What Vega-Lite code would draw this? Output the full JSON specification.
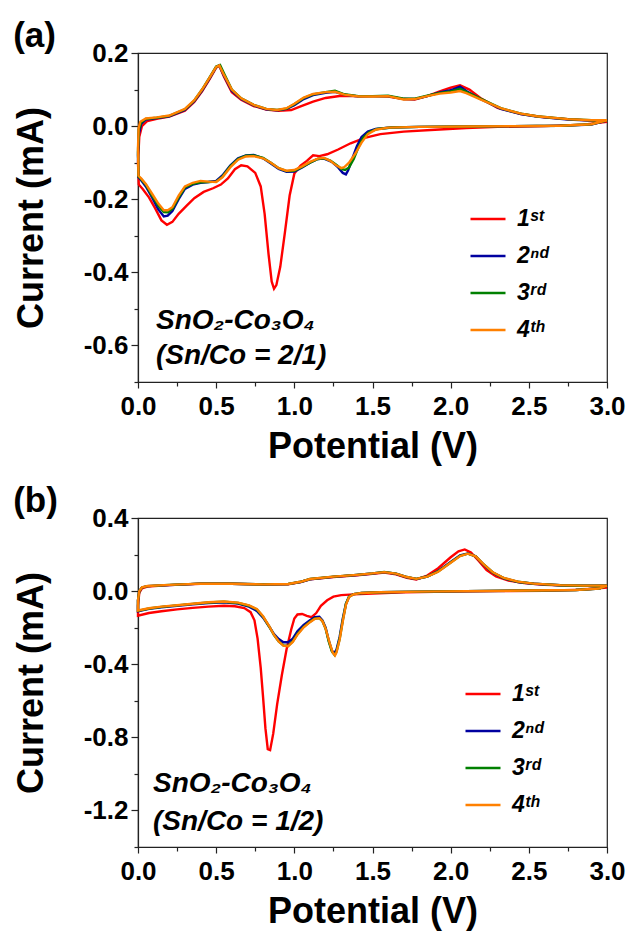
{
"$schema": "https://vega.github.io/schema/vega-lite/v6.json",
"background": "white",
"padding": {"left": 12, "top": 18, "right": 5, "bottom": 2},
"config": {
  "font": "Liberation Sans",
  "view": {"stroke": "#222", "strokeWidth": 1.2},
  "axis": {"grid": false, "domainColor": "#222", "domainWidth": 1.2, "tickColor": "#222", "tickWidth": 1.2,
    "labelFont": "Liberation Sans", "labelFontSize": 26, "labelFontWeight": "bold", "labelColor": "#000",
    "titleFont": "Liberation Sans", "titleFontSize": 36, "titleFontWeight": "bold", "titleColor": "#000",
    "labelOverlap": false, "labelFlush": false},
  "axisX": {"labelPadding": 5, "titlePadding": 10, "tickSize": 6},
  "axisY": {"labelPadding": 3, "titlePadding": 33, "tickSize": 7},
  "legend": {"labelFont": "Liberation Sans"},
  "title": {"font": "Liberation Sans", "fontSize": 35, "fontWeight": "bold", "color": "#000", "anchor": "start", "frame": "bounds", "offset": -14}
},
"datasets": {
"cvA": [
{"cycle":"1st","n":1,"V":3.0,"I":0.012},{"cycle":"1st","n":2,"V":2.85,"I":0.004},{"cycle":"1st","n":3,"V":2.6,"I":0.0},{"cycle":"1st","n":4,"V":2.3,"I":-0.002},{"cycle":"1st","n":5,"V":2.1,"I":-0.005},{"cycle":"1st","n":6,"V":1.9,"I":-0.01},{"cycle":"1st","n":7,"V":1.7,"I":-0.015},{"cycle":"1st","n":8,"V":1.55,"I":-0.022},{"cycle":"1st","n":9,"V":1.45,"I":-0.032},{"cycle":"1st","n":10,"V":1.36,"I":-0.047},{"cycle":"1st","n":11,"V":1.28,"I":-0.064},{"cycle":"1st","n":12,"V":1.21,"I":-0.077},{"cycle":"1st","n":13,"V":1.16,"I":-0.082},{"cycle":"1st","n":14,"V":1.12,"I":-0.08},{"cycle":"1st","n":15,"V":1.08,"I":-0.095},{"cycle":"1st","n":16,"V":1.04,"I":-0.108},{"cycle":"1st","n":17,"V":1.0,"I":-0.13},{"cycle":"1st","n":18,"V":0.97,"I":-0.19},{"cycle":"1st","n":19,"V":0.94,"I":-0.29},{"cycle":"1st","n":20,"V":0.91,"I":-0.385},{"cycle":"1st","n":21,"V":0.885,"I":-0.435},{"cycle":"1st","n":22,"V":0.87,"I":-0.445},{"cycle":"1st","n":23,"V":0.855,"I":-0.425},{"cycle":"1st","n":24,"V":0.835,"I":-0.35},{"cycle":"1st","n":25,"V":0.81,"I":-0.24},{"cycle":"1st","n":26,"V":0.785,"I":-0.165},{"cycle":"1st","n":27,"V":0.75,"I":-0.128},{"cycle":"1st","n":28,"V":0.7,"I":-0.11},{"cycle":"1st","n":29,"V":0.66,"I":-0.107},{"cycle":"1st","n":30,"V":0.62,"I":-0.118},{"cycle":"1st","n":31,"V":0.575,"I":-0.143},{"cycle":"1st","n":32,"V":0.53,"I":-0.16},{"cycle":"1st","n":33,"V":0.48,"I":-0.17},{"cycle":"1st","n":34,"V":0.42,"I":-0.18},{"cycle":"1st","n":35,"V":0.36,"I":-0.197},{"cycle":"1st","n":36,"V":0.31,"I":-0.218},{"cycle":"1st","n":37,"V":0.26,"I":-0.24},{"cycle":"1st","n":38,"V":0.22,"I":-0.262},{"cycle":"1st","n":39,"V":0.185,"I":-0.27},{"cycle":"1st","n":40,"V":0.15,"I":-0.258},{"cycle":"1st","n":41,"V":0.11,"I":-0.225},{"cycle":"1st","n":42,"V":0.07,"I":-0.195},{"cycle":"1st","n":43,"V":0.03,"I":-0.172},{"cycle":"1st","n":44,"V":0.005,"I":-0.16},{"cycle":"1st","n":45,"V":0.0,"I":-0.1},{"cycle":"1st","n":46,"V":0.008,"I":-0.03},{"cycle":"1st","n":47,"V":0.025,"I":0.0},{"cycle":"1st","n":48,"V":0.06,"I":0.014},{"cycle":"1st","n":49,"V":0.12,"I":0.02},{"cycle":"1st","n":50,"V":0.2,"I":0.026},{"cycle":"1st","n":51,"V":0.3,"I":0.042},{"cycle":"1st","n":52,"V":0.36,"I":0.066},{"cycle":"1st","n":53,"V":0.41,"I":0.095},{"cycle":"1st","n":54,"V":0.46,"I":0.13},{"cycle":"1st","n":55,"V":0.5,"I":0.16},{"cycle":"1st","n":56,"V":0.52,"I":0.165},{"cycle":"1st","n":57,"V":0.55,"I":0.135},{"cycle":"1st","n":58,"V":0.6,"I":0.093},{"cycle":"1st","n":59,"V":0.66,"I":0.072},{"cycle":"1st","n":60,"V":0.74,"I":0.055},{"cycle":"1st","n":61,"V":0.82,"I":0.045},{"cycle":"1st","n":62,"V":0.9,"I":0.042},{"cycle":"1st","n":63,"V":0.98,"I":0.044},{"cycle":"1st","n":64,"V":1.04,"I":0.054},{"cycle":"1st","n":65,"V":1.12,"I":0.067},{"cycle":"1st","n":66,"V":1.2,"I":0.077},{"cycle":"1st","n":67,"V":1.3,"I":0.083},{"cycle":"1st","n":68,"V":1.4,"I":0.082},{"cycle":"1st","n":69,"V":1.5,"I":0.082},{"cycle":"1st","n":70,"V":1.6,"I":0.081},{"cycle":"1st","n":71,"V":1.7,"I":0.074},{"cycle":"1st","n":72,"V":1.77,"I":0.073},{"cycle":"1st","n":73,"V":1.85,"I":0.082},{"cycle":"1st","n":74,"V":1.93,"I":0.095},{"cycle":"1st","n":75,"V":2.0,"I":0.105},{"cycle":"1st","n":76,"V":2.06,"I":0.112},{"cycle":"1st","n":77,"V":2.12,"I":0.1},{"cycle":"1st","n":78,"V":2.19,"I":0.077},{"cycle":"1st","n":79,"V":2.3,"I":0.05},{"cycle":"1st","n":80,"V":2.45,"I":0.033},{"cycle":"1st","n":81,"V":2.6,"I":0.024},{"cycle":"1st","n":82,"V":2.75,"I":0.019},{"cycle":"1st","n":83,"V":2.9,"I":0.015},{"cycle":"1st","n":84,"V":3.0,"I":0.012},
{"cycle":"2nd","n":1,"V":3.0,"I":0.015},{"cycle":"2nd","n":2,"V":2.9,"I":0.004},{"cycle":"2nd","n":3,"V":2.7,"I":0.001},{"cycle":"2nd","n":4,"V":2.4,"I":0.0},{"cycle":"2nd","n":5,"V":2.1,"I":-0.001},{"cycle":"2nd","n":6,"V":1.8,"I":-0.002},{"cycle":"2nd","n":7,"V":1.62,"I":-0.004},{"cycle":"2nd","n":8,"V":1.52,"I":-0.008},{"cycle":"2nd","n":9,"V":1.47,"I":-0.015},{"cycle":"2nd","n":10,"V":1.43,"I":-0.03},{"cycle":"2nd","n":11,"V":1.4,"I":-0.055},{"cycle":"2nd","n":12,"V":1.37,"I":-0.09},{"cycle":"2nd","n":13,"V":1.345,"I":-0.12},{"cycle":"2nd","n":14,"V":1.33,"I":-0.132},{"cycle":"2nd","n":15,"V":1.31,"I":-0.128},{"cycle":"2nd","n":16,"V":1.28,"I":-0.113},{"cycle":"2nd","n":17,"V":1.24,"I":-0.098},{"cycle":"2nd","n":18,"V":1.19,"I":-0.089},{"cycle":"2nd","n":19,"V":1.15,"I":-0.09},{"cycle":"2nd","n":20,"V":1.1,"I":-0.1},{"cycle":"2nd","n":21,"V":1.05,"I":-0.113},{"cycle":"2nd","n":22,"V":1.0,"I":-0.124},{"cycle":"2nd","n":23,"V":0.95,"I":-0.125},{"cycle":"2nd","n":24,"V":0.9,"I":-0.117},{"cycle":"2nd","n":25,"V":0.85,"I":-0.102},{"cycle":"2nd","n":26,"V":0.8,"I":-0.088},{"cycle":"2nd","n":27,"V":0.74,"I":-0.079},{"cycle":"2nd","n":28,"V":0.69,"I":-0.08},{"cycle":"2nd","n":29,"V":0.64,"I":-0.088},{"cycle":"2nd","n":30,"V":0.59,"I":-0.108},{"cycle":"2nd","n":31,"V":0.54,"I":-0.135},{"cycle":"2nd","n":32,"V":0.5,"I":-0.15},{"cycle":"2nd","n":33,"V":0.45,"I":-0.153},{"cycle":"2nd","n":34,"V":0.4,"I":-0.155},{"cycle":"2nd","n":35,"V":0.35,"I":-0.16},{"cycle":"2nd","n":36,"V":0.3,"I":-0.172},{"cycle":"2nd","n":37,"V":0.26,"I":-0.2},{"cycle":"2nd","n":38,"V":0.22,"I":-0.232},{"cycle":"2nd","n":39,"V":0.19,"I":-0.245},{"cycle":"2nd","n":40,"V":0.165,"I":-0.247},{"cycle":"2nd","n":41,"V":0.13,"I":-0.228},{"cycle":"2nd","n":42,"V":0.09,"I":-0.195},{"cycle":"2nd","n":43,"V":0.05,"I":-0.165},{"cycle":"2nd","n":44,"V":0.02,"I":-0.148},{"cycle":"2nd","n":45,"V":0.003,"I":-0.14},{"cycle":"2nd","n":46,"V":0.0,"I":-0.08},{"cycle":"2nd","n":47,"V":0.006,"I":-0.02},{"cycle":"2nd","n":48,"V":0.02,"I":0.006},{"cycle":"2nd","n":49,"V":0.05,"I":0.018},{"cycle":"2nd","n":50,"V":0.12,"I":0.022},{"cycle":"2nd","n":51,"V":0.2,"I":0.027},{"cycle":"2nd","n":52,"V":0.3,"I":0.044},{"cycle":"2nd","n":53,"V":0.36,"I":0.068},{"cycle":"2nd","n":54,"V":0.41,"I":0.097},{"cycle":"2nd","n":55,"V":0.46,"I":0.132},{"cycle":"2nd","n":56,"V":0.5,"I":0.161},{"cycle":"2nd","n":57,"V":0.52,"I":0.166},{"cycle":"2nd","n":58,"V":0.55,"I":0.138},{"cycle":"2nd","n":59,"V":0.6,"I":0.097},{"cycle":"2nd","n":60,"V":0.66,"I":0.074},{"cycle":"2nd","n":61,"V":0.74,"I":0.057},{"cycle":"2nd","n":62,"V":0.82,"I":0.046},{"cycle":"2nd","n":63,"V":0.89,"I":0.043},{"cycle":"2nd","n":64,"V":0.95,"I":0.047},{"cycle":"2nd","n":65,"V":1.0,"I":0.057},{"cycle":"2nd","n":66,"V":1.06,"I":0.074},{"cycle":"2nd","n":67,"V":1.12,"I":0.085},{"cycle":"2nd","n":68,"V":1.2,"I":0.091},{"cycle":"2nd","n":69,"V":1.26,"I":0.094},{"cycle":"2nd","n":70,"V":1.32,"I":0.086},{"cycle":"2nd","n":71,"V":1.41,"I":0.081},{"cycle":"2nd","n":72,"V":1.5,"I":0.082},{"cycle":"2nd","n":73,"V":1.6,"I":0.082},{"cycle":"2nd","n":74,"V":1.7,"I":0.074},{"cycle":"2nd","n":75,"V":1.77,"I":0.074},{"cycle":"2nd","n":76,"V":1.85,"I":0.082},{"cycle":"2nd","n":77,"V":1.93,"I":0.092},{"cycle":"2nd","n":78,"V":2.0,"I":0.098},{"cycle":"2nd","n":79,"V":2.06,"I":0.108},{"cycle":"2nd","n":80,"V":2.1,"I":0.096},{"cycle":"2nd","n":81,"V":2.19,"I":0.074},{"cycle":"2nd","n":82,"V":2.32,"I":0.047},{"cycle":"2nd","n":83,"V":2.45,"I":0.033},{"cycle":"2nd","n":84,"V":2.55,"I":0.026},{"cycle":"2nd","n":85,"V":2.75,"I":0.018},{"cycle":"2nd","n":86,"V":2.9,"I":0.015},{"cycle":"2nd","n":87,"V":3.0,"I":0.015},
{"cycle":"3rd","n":1,"V":3.0,"I":0.016},{"cycle":"3rd","n":2,"V":2.9,"I":0.005},{"cycle":"3rd","n":3,"V":2.7,"I":0.001},{"cycle":"3rd","n":4,"V":2.4,"I":0.0},{"cycle":"3rd","n":5,"V":2.1,"I":-0.001},{"cycle":"3rd","n":6,"V":1.8,"I":-0.002},{"cycle":"3rd","n":7,"V":1.62,"I":-0.004},{"cycle":"3rd","n":8,"V":1.53,"I":-0.008},{"cycle":"3rd","n":9,"V":1.48,"I":-0.016},{"cycle":"3rd","n":10,"V":1.44,"I":-0.032},{"cycle":"3rd","n":11,"V":1.41,"I":-0.058},{"cycle":"3rd","n":12,"V":1.38,"I":-0.09},{"cycle":"3rd","n":13,"V":1.35,"I":-0.113},{"cycle":"3rd","n":14,"V":1.325,"I":-0.12},{"cycle":"3rd","n":15,"V":1.3,"I":-0.117},{"cycle":"3rd","n":16,"V":1.27,"I":-0.106},{"cycle":"3rd","n":17,"V":1.23,"I":-0.094},{"cycle":"3rd","n":18,"V":1.19,"I":-0.088},{"cycle":"3rd","n":19,"V":1.15,"I":-0.09},{"cycle":"3rd","n":20,"V":1.1,"I":-0.1},{"cycle":"3rd","n":21,"V":1.05,"I":-0.112},{"cycle":"3rd","n":22,"V":1.0,"I":-0.122},{"cycle":"3rd","n":23,"V":0.95,"I":-0.123},{"cycle":"3rd","n":24,"V":0.9,"I":-0.115},{"cycle":"3rd","n":25,"V":0.85,"I":-0.1},{"cycle":"3rd","n":26,"V":0.8,"I":-0.087},{"cycle":"3rd","n":27,"V":0.74,"I":-0.08},{"cycle":"3rd","n":28,"V":0.69,"I":-0.081},{"cycle":"3rd","n":29,"V":0.64,"I":-0.09},{"cycle":"3rd","n":30,"V":0.59,"I":-0.11},{"cycle":"3rd","n":31,"V":0.54,"I":-0.138},{"cycle":"3rd","n":32,"V":0.5,"I":-0.152},{"cycle":"3rd","n":33,"V":0.45,"I":-0.153},{"cycle":"3rd","n":34,"V":0.4,"I":-0.154},{"cycle":"3rd","n":35,"V":0.35,"I":-0.158},{"cycle":"3rd","n":36,"V":0.3,"I":-0.168},{"cycle":"3rd","n":37,"V":0.26,"I":-0.195},{"cycle":"3rd","n":38,"V":0.22,"I":-0.226},{"cycle":"3rd","n":39,"V":0.19,"I":-0.236},{"cycle":"3rd","n":40,"V":0.165,"I":-0.235},{"cycle":"3rd","n":41,"V":0.13,"I":-0.218},{"cycle":"3rd","n":42,"V":0.09,"I":-0.19},{"cycle":"3rd","n":43,"V":0.05,"I":-0.16},{"cycle":"3rd","n":44,"V":0.02,"I":-0.145},{"cycle":"3rd","n":45,"V":0.003,"I":-0.138},{"cycle":"3rd","n":46,"V":0.0,"I":-0.07},{"cycle":"3rd","n":47,"V":0.005,"I":-0.01},{"cycle":"3rd","n":48,"V":0.02,"I":0.01},{"cycle":"3rd","n":49,"V":0.05,"I":0.02},{"cycle":"3rd","n":50,"V":0.12,"I":0.023},{"cycle":"3rd","n":51,"V":0.2,"I":0.028},{"cycle":"3rd","n":52,"V":0.3,"I":0.046},{"cycle":"3rd","n":53,"V":0.36,"I":0.07},{"cycle":"3rd","n":54,"V":0.41,"I":0.1},{"cycle":"3rd","n":55,"V":0.46,"I":0.135},{"cycle":"3rd","n":56,"V":0.5,"I":0.163},{"cycle":"3rd","n":57,"V":0.525,"I":0.167},{"cycle":"3rd","n":58,"V":0.555,"I":0.14},{"cycle":"3rd","n":59,"V":0.6,"I":0.1},{"cycle":"3rd","n":60,"V":0.66,"I":0.076},{"cycle":"3rd","n":61,"V":0.74,"I":0.058},{"cycle":"3rd","n":62,"V":0.82,"I":0.047},{"cycle":"3rd","n":63,"V":0.89,"I":0.044},{"cycle":"3rd","n":64,"V":0.95,"I":0.048},{"cycle":"3rd","n":65,"V":1.0,"I":0.06},{"cycle":"3rd","n":66,"V":1.06,"I":0.077},{"cycle":"3rd","n":67,"V":1.12,"I":0.087},{"cycle":"3rd","n":68,"V":1.2,"I":0.093},{"cycle":"3rd","n":69,"V":1.26,"I":0.097},{"cycle":"3rd","n":70,"V":1.32,"I":0.087},{"cycle":"3rd","n":71,"V":1.41,"I":0.082},{"cycle":"3rd","n":72,"V":1.5,"I":0.082},{"cycle":"3rd","n":73,"V":1.6,"I":0.083},{"cycle":"3rd","n":74,"V":1.7,"I":0.075},{"cycle":"3rd","n":75,"V":1.77,"I":0.075},{"cycle":"3rd","n":76,"V":1.85,"I":0.083},{"cycle":"3rd","n":77,"V":1.93,"I":0.091},{"cycle":"3rd","n":78,"V":2.0,"I":0.095},{"cycle":"3rd","n":79,"V":2.06,"I":0.102},{"cycle":"3rd","n":80,"V":2.1,"I":0.094},{"cycle":"3rd","n":81,"V":2.19,"I":0.075},{"cycle":"3rd","n":82,"V":2.32,"I":0.049},{"cycle":"3rd","n":83,"V":2.45,"I":0.034},{"cycle":"3rd","n":84,"V":2.55,"I":0.027},{"cycle":"3rd","n":85,"V":2.75,"I":0.019},{"cycle":"3rd","n":86,"V":2.9,"I":0.016},{"cycle":"3rd","n":87,"V":3.0,"I":0.016},
{"cycle":"4th","n":1,"V":3.0,"I":0.016},{"cycle":"4th","n":2,"V":2.9,"I":0.005},{"cycle":"4th","n":3,"V":2.7,"I":0.001},{"cycle":"4th","n":4,"V":2.4,"I":0.0},{"cycle":"4th","n":5,"V":2.1,"I":-0.001},{"cycle":"4th","n":6,"V":1.8,"I":-0.002},{"cycle":"4th","n":7,"V":1.6,"I":-0.004},{"cycle":"4th","n":8,"V":1.52,"I":-0.01},{"cycle":"4th","n":9,"V":1.47,"I":-0.022},{"cycle":"4th","n":10,"V":1.43,"I":-0.045},{"cycle":"4th","n":11,"V":1.39,"I":-0.075},{"cycle":"4th","n":12,"V":1.35,"I":-0.1},{"cycle":"4th","n":13,"V":1.32,"I":-0.112},{"cycle":"4th","n":14,"V":1.3,"I":-0.115},{"cycle":"4th","n":15,"V":1.27,"I":-0.108},{"cycle":"4th","n":16,"V":1.23,"I":-0.095},{"cycle":"4th","n":17,"V":1.19,"I":-0.087},{"cycle":"4th","n":18,"V":1.15,"I":-0.089},{"cycle":"4th","n":19,"V":1.1,"I":-0.098},{"cycle":"4th","n":20,"V":1.05,"I":-0.11},{"cycle":"4th","n":21,"V":1.0,"I":-0.12},{"cycle":"4th","n":22,"V":0.95,"I":-0.122},{"cycle":"4th","n":23,"V":0.9,"I":-0.115},{"cycle":"4th","n":24,"V":0.85,"I":-0.1},{"cycle":"4th","n":25,"V":0.8,"I":-0.088},{"cycle":"4th","n":26,"V":0.74,"I":-0.082},{"cycle":"4th","n":27,"V":0.69,"I":-0.083},{"cycle":"4th","n":28,"V":0.64,"I":-0.092},{"cycle":"4th","n":29,"V":0.59,"I":-0.113},{"cycle":"4th","n":30,"V":0.54,"I":-0.14},{"cycle":"4th","n":31,"V":0.5,"I":-0.153},{"cycle":"4th","n":32,"V":0.45,"I":-0.152},{"cycle":"4th","n":33,"V":0.4,"I":-0.15},{"cycle":"4th","n":34,"V":0.35,"I":-0.155},{"cycle":"4th","n":35,"V":0.3,"I":-0.165},{"cycle":"4th","n":36,"V":0.26,"I":-0.19},{"cycle":"4th","n":37,"V":0.22,"I":-0.222},{"cycle":"4th","n":38,"V":0.19,"I":-0.23},{"cycle":"4th","n":39,"V":0.165,"I":-0.23},{"cycle":"4th","n":40,"V":0.13,"I":-0.212},{"cycle":"4th","n":41,"V":0.09,"I":-0.185},{"cycle":"4th","n":42,"V":0.05,"I":-0.158},{"cycle":"4th","n":43,"V":0.02,"I":-0.143},{"cycle":"4th","n":44,"V":0.003,"I":-0.136},{"cycle":"4th","n":45,"V":0.0,"I":-0.06},{"cycle":"4th","n":46,"V":0.004,"I":-0.005},{"cycle":"4th","n":47,"V":0.015,"I":0.012},{"cycle":"4th","n":48,"V":0.05,"I":0.021},{"cycle":"4th","n":49,"V":0.12,"I":0.024},{"cycle":"4th","n":50,"V":0.2,"I":0.029},{"cycle":"4th","n":51,"V":0.3,"I":0.047},{"cycle":"4th","n":52,"V":0.36,"I":0.071},{"cycle":"4th","n":53,"V":0.41,"I":0.1},{"cycle":"4th","n":54,"V":0.46,"I":0.134},{"cycle":"4th","n":55,"V":0.5,"I":0.162},{"cycle":"4th","n":56,"V":0.52,"I":0.166},{"cycle":"4th","n":57,"V":0.55,"I":0.14},{"cycle":"4th","n":58,"V":0.6,"I":0.1},{"cycle":"4th","n":59,"V":0.66,"I":0.076},{"cycle":"4th","n":60,"V":0.74,"I":0.058},{"cycle":"4th","n":61,"V":0.82,"I":0.047},{"cycle":"4th","n":62,"V":0.89,"I":0.044},{"cycle":"4th","n":63,"V":0.95,"I":0.049},{"cycle":"4th","n":64,"V":1.0,"I":0.061},{"cycle":"4th","n":65,"V":1.06,"I":0.078},{"cycle":"4th","n":66,"V":1.12,"I":0.088},{"cycle":"4th","n":67,"V":1.2,"I":0.093},{"cycle":"4th","n":68,"V":1.26,"I":0.094},{"cycle":"4th","n":69,"V":1.32,"I":0.086},{"cycle":"4th","n":70,"V":1.41,"I":0.081},{"cycle":"4th","n":71,"V":1.5,"I":0.081},{"cycle":"4th","n":72,"V":1.6,"I":0.082},{"cycle":"4th","n":73,"V":1.7,"I":0.073},{"cycle":"4th","n":74,"V":1.77,"I":0.074},{"cycle":"4th","n":75,"V":1.85,"I":0.082},{"cycle":"4th","n":76,"V":1.93,"I":0.089},{"cycle":"4th","n":77,"V":2.0,"I":0.092},{"cycle":"4th","n":78,"V":2.06,"I":0.096},{"cycle":"4th","n":79,"V":2.1,"I":0.09},{"cycle":"4th","n":80,"V":2.19,"I":0.073},{"cycle":"4th","n":81,"V":2.32,"I":0.049},{"cycle":"4th","n":82,"V":2.45,"I":0.034},{"cycle":"4th","n":83,"V":2.55,"I":0.027},{"cycle":"4th","n":84,"V":2.75,"I":0.019},{"cycle":"4th","n":85,"V":2.9,"I":0.016},{"cycle":"4th","n":86,"V":3.0,"I":0.016}
],
"cvB": [
{"cycle":"1st","n":1,"V":3.0,"I":0.02},{"cycle":"1st","n":2,"V":2.85,"I":0.008},{"cycle":"1st","n":3,"V":2.6,"I":0.002},{"cycle":"1st","n":4,"V":2.3,"I":0.0},{"cycle":"1st","n":5,"V":2.0,"I":-0.003},{"cycle":"1st","n":6,"V":1.7,"I":-0.007},{"cycle":"1st","n":7,"V":1.5,"I":-0.013},{"cycle":"1st","n":8,"V":1.38,"I":-0.018},{"cycle":"1st","n":9,"V":1.3,"I":-0.022},{"cycle":"1st","n":10,"V":1.25,"I":-0.03},{"cycle":"1st","n":11,"V":1.21,"I":-0.05},{"cycle":"1st","n":12,"V":1.17,"I":-0.08},{"cycle":"1st","n":13,"V":1.14,"I":-0.12},{"cycle":"1st","n":14,"V":1.11,"I":-0.142},{"cycle":"1st","n":15,"V":1.08,"I":-0.135},{"cycle":"1st","n":16,"V":1.05,"I":-0.125},{"cycle":"1st","n":17,"V":1.02,"I":-0.128},{"cycle":"1st","n":18,"V":1.0,"I":-0.15},{"cycle":"1st","n":19,"V":0.98,"I":-0.21},{"cycle":"1st","n":20,"V":0.95,"I":-0.32},{"cycle":"1st","n":21,"V":0.92,"I":-0.46},{"cycle":"1st","n":22,"V":0.89,"I":-0.62},{"cycle":"1st","n":23,"V":0.865,"I":-0.78},{"cycle":"1st","n":24,"V":0.845,"I":-0.87},{"cycle":"1st","n":25,"V":0.83,"I":-0.865},{"cycle":"1st","n":26,"V":0.815,"I":-0.75},{"cycle":"1st","n":27,"V":0.8,"I":-0.58},{"cycle":"1st","n":28,"V":0.785,"I":-0.42},{"cycle":"1st","n":29,"V":0.765,"I":-0.26},{"cycle":"1st","n":30,"V":0.745,"I":-0.16},{"cycle":"1st","n":31,"V":0.72,"I":-0.115},{"cycle":"1st","n":32,"V":0.68,"I":-0.093},{"cycle":"1st","n":33,"V":0.62,"I":-0.083},{"cycle":"1st","n":34,"V":0.55,"I":-0.08},{"cycle":"1st","n":35,"V":0.45,"I":-0.085},{"cycle":"1st","n":36,"V":0.35,"I":-0.092},{"cycle":"1st","n":37,"V":0.25,"I":-0.1},{"cycle":"1st","n":38,"V":0.15,"I":-0.11},{"cycle":"1st","n":39,"V":0.07,"I":-0.12},{"cycle":"1st","n":40,"V":0.0,"I":-0.135},{"cycle":"1st","n":41,"V":0.0,"I":-0.08},{"cycle":"1st","n":42,"V":0.008,"I":-0.01},{"cycle":"1st","n":43,"V":0.025,"I":0.015},{"cycle":"1st","n":44,"V":0.06,"I":0.025},{"cycle":"1st","n":45,"V":0.2,"I":0.033},{"cycle":"1st","n":46,"V":0.4,"I":0.04},{"cycle":"1st","n":47,"V":0.6,"I":0.04},{"cycle":"1st","n":48,"V":0.8,"I":0.036},{"cycle":"1st","n":49,"V":0.96,"I":0.037},{"cycle":"1st","n":50,"V":1.04,"I":0.05},{"cycle":"1st","n":51,"V":1.1,"I":0.064},{"cycle":"1st","n":52,"V":1.25,"I":0.077},{"cycle":"1st","n":53,"V":1.4,"I":0.087},{"cycle":"1st","n":54,"V":1.5,"I":0.094},{"cycle":"1st","n":55,"V":1.575,"I":0.102},{"cycle":"1st","n":56,"V":1.65,"I":0.092},{"cycle":"1st","n":57,"V":1.72,"I":0.073},{"cycle":"1st","n":58,"V":1.78,"I":0.064},{"cycle":"1st","n":59,"V":1.85,"I":0.085},{"cycle":"1st","n":60,"V":1.92,"I":0.125},{"cycle":"1st","n":61,"V":2.0,"I":0.185},{"cycle":"1st","n":62,"V":2.05,"I":0.218},{"cycle":"1st","n":63,"V":2.09,"I":0.228},{"cycle":"1st","n":64,"V":2.13,"I":0.212},{"cycle":"1st","n":65,"V":2.18,"I":0.165},{"cycle":"1st","n":66,"V":2.23,"I":0.115},{"cycle":"1st","n":67,"V":2.29,"I":0.08},{"cycle":"1st","n":68,"V":2.37,"I":0.057},{"cycle":"1st","n":69,"V":2.47,"I":0.044},{"cycle":"1st","n":70,"V":2.6,"I":0.035},{"cycle":"1st","n":71,"V":2.75,"I":0.03},{"cycle":"1st","n":72,"V":2.9,"I":0.028},{"cycle":"1st","n":73,"V":3.0,"I":0.03},
{"cycle":"2nd","n":1,"V":3.0,"I":0.03},{"cycle":"2nd","n":2,"V":2.95,"I":0.014},{"cycle":"2nd","n":3,"V":2.8,"I":0.006},{"cycle":"2nd","n":4,"V":2.5,"I":0.003},{"cycle":"2nd","n":5,"V":2.1,"I":0.0},{"cycle":"2nd","n":6,"V":1.8,"I":-0.003},{"cycle":"2nd","n":7,"V":1.55,"I":-0.006},{"cycle":"2nd","n":8,"V":1.43,"I":-0.01},{"cycle":"2nd","n":9,"V":1.38,"I":-0.016},{"cycle":"2nd","n":10,"V":1.35,"I":-0.03},{"cycle":"2nd","n":11,"V":1.33,"I":-0.07},{"cycle":"2nd","n":12,"V":1.31,"I":-0.15},{"cycle":"2nd","n":13,"V":1.29,"I":-0.25},{"cycle":"2nd","n":14,"V":1.27,"I":-0.32},{"cycle":"2nd","n":15,"V":1.255,"I":-0.34},{"cycle":"2nd","n":16,"V":1.24,"I":-0.325},{"cycle":"2nd","n":17,"V":1.22,"I":-0.27},{"cycle":"2nd","n":18,"V":1.2,"I":-0.2},{"cycle":"2nd","n":19,"V":1.18,"I":-0.16},{"cycle":"2nd","n":20,"V":1.16,"I":-0.14},{"cycle":"2nd","n":21,"V":1.13,"I":-0.143},{"cycle":"2nd","n":22,"V":1.1,"I":-0.16},{"cycle":"2nd","n":23,"V":1.06,"I":-0.185},{"cycle":"2nd","n":24,"V":1.02,"I":-0.22},{"cycle":"2nd","n":25,"V":0.99,"I":-0.26},{"cycle":"2nd","n":26,"V":0.96,"I":-0.28},{"cycle":"2nd","n":27,"V":0.93,"I":-0.28},{"cycle":"2nd","n":28,"V":0.9,"I":-0.262},{"cycle":"2nd","n":29,"V":0.87,"I":-0.235},{"cycle":"2nd","n":30,"V":0.84,"I":-0.195},{"cycle":"2nd","n":31,"V":0.8,"I":-0.145},{"cycle":"2nd","n":32,"V":0.76,"I":-0.108},{"cycle":"2nd","n":33,"V":0.71,"I":-0.085},{"cycle":"2nd","n":34,"V":0.64,"I":-0.068},{"cycle":"2nd","n":35,"V":0.55,"I":-0.061},{"cycle":"2nd","n":36,"V":0.45,"I":-0.065},{"cycle":"2nd","n":37,"V":0.35,"I":-0.072},{"cycle":"2nd","n":38,"V":0.25,"I":-0.08},{"cycle":"2nd","n":39,"V":0.15,"I":-0.088},{"cycle":"2nd","n":40,"V":0.07,"I":-0.097},{"cycle":"2nd","n":41,"V":0.0,"I":-0.11},{"cycle":"2nd","n":42,"V":0.0,"I":-0.05},{"cycle":"2nd","n":43,"V":0.008,"I":0.0},{"cycle":"2nd","n":44,"V":0.025,"I":0.02},{"cycle":"2nd","n":45,"V":0.06,"I":0.027},{"cycle":"2nd","n":46,"V":0.2,"I":0.033},{"cycle":"2nd","n":47,"V":0.4,"I":0.041},{"cycle":"2nd","n":48,"V":0.6,"I":0.04},{"cycle":"2nd","n":49,"V":0.8,"I":0.037},{"cycle":"2nd","n":50,"V":0.96,"I":0.038},{"cycle":"2nd","n":51,"V":1.04,"I":0.05},{"cycle":"2nd","n":52,"V":1.1,"I":0.065},{"cycle":"2nd","n":53,"V":1.25,"I":0.078},{"cycle":"2nd","n":54,"V":1.4,"I":0.088},{"cycle":"2nd","n":55,"V":1.5,"I":0.096},{"cycle":"2nd","n":56,"V":1.575,"I":0.104},{"cycle":"2nd","n":57,"V":1.65,"I":0.095},{"cycle":"2nd","n":58,"V":1.72,"I":0.076},{"cycle":"2nd","n":59,"V":1.78,"I":0.066},{"cycle":"2nd","n":60,"V":1.85,"I":0.08},{"cycle":"2nd","n":61,"V":1.92,"I":0.11},{"cycle":"2nd","n":62,"V":2.0,"I":0.16},{"cycle":"2nd","n":63,"V":2.06,"I":0.195},{"cycle":"2nd","n":64,"V":2.11,"I":0.206},{"cycle":"2nd","n":65,"V":2.16,"I":0.19},{"cycle":"2nd","n":66,"V":2.21,"I":0.145},{"cycle":"2nd","n":67,"V":2.27,"I":0.1},{"cycle":"2nd","n":68,"V":2.34,"I":0.07},{"cycle":"2nd","n":69,"V":2.43,"I":0.05},{"cycle":"2nd","n":70,"V":2.53,"I":0.04},{"cycle":"2nd","n":71,"V":2.7,"I":0.032},{"cycle":"2nd","n":72,"V":2.85,"I":0.029},{"cycle":"2nd","n":73,"V":3.0,"I":0.03},
{"cycle":"3rd","n":1,"V":3.0,"I":0.03},{"cycle":"3rd","n":2,"V":2.95,"I":0.014},{"cycle":"3rd","n":3,"V":2.8,"I":0.006},{"cycle":"3rd","n":4,"V":2.5,"I":0.003},{"cycle":"3rd","n":5,"V":2.1,"I":0.0},{"cycle":"3rd","n":6,"V":1.8,"I":-0.003},{"cycle":"3rd","n":7,"V":1.55,"I":-0.006},{"cycle":"3rd","n":8,"V":1.43,"I":-0.01},{"cycle":"3rd","n":9,"V":1.38,"I":-0.016},{"cycle":"3rd","n":10,"V":1.35,"I":-0.03},{"cycle":"3rd","n":11,"V":1.33,"I":-0.07},{"cycle":"3rd","n":12,"V":1.31,"I":-0.16},{"cycle":"3rd","n":13,"V":1.29,"I":-0.26},{"cycle":"3rd","n":14,"V":1.27,"I":-0.33},{"cycle":"3rd","n":15,"V":1.258,"I":-0.35},{"cycle":"3rd","n":16,"V":1.24,"I":-0.33},{"cycle":"3rd","n":17,"V":1.22,"I":-0.275},{"cycle":"3rd","n":18,"V":1.2,"I":-0.205},{"cycle":"3rd","n":19,"V":1.18,"I":-0.165},{"cycle":"3rd","n":20,"V":1.16,"I":-0.148},{"cycle":"3rd","n":21,"V":1.13,"I":-0.15},{"cycle":"3rd","n":22,"V":1.1,"I":-0.168},{"cycle":"3rd","n":23,"V":1.06,"I":-0.195},{"cycle":"3rd","n":24,"V":1.02,"I":-0.235},{"cycle":"3rd","n":25,"V":0.99,"I":-0.275},{"cycle":"3rd","n":26,"V":0.96,"I":-0.3},{"cycle":"3rd","n":27,"V":0.93,"I":-0.297},{"cycle":"3rd","n":28,"V":0.9,"I":-0.275},{"cycle":"3rd","n":29,"V":0.87,"I":-0.24},{"cycle":"3rd","n":30,"V":0.84,"I":-0.195},{"cycle":"3rd","n":31,"V":0.8,"I":-0.14},{"cycle":"3rd","n":32,"V":0.76,"I":-0.1},{"cycle":"3rd","n":33,"V":0.71,"I":-0.08},{"cycle":"3rd","n":34,"V":0.64,"I":-0.065},{"cycle":"3rd","n":35,"V":0.55,"I":-0.058},{"cycle":"3rd","n":36,"V":0.45,"I":-0.062},{"cycle":"3rd","n":37,"V":0.35,"I":-0.07},{"cycle":"3rd","n":38,"V":0.25,"I":-0.078},{"cycle":"3rd","n":39,"V":0.15,"I":-0.086},{"cycle":"3rd","n":40,"V":0.07,"I":-0.095},{"cycle":"3rd","n":41,"V":0.0,"I":-0.108},{"cycle":"3rd","n":42,"V":0.0,"I":-0.05},{"cycle":"3rd","n":43,"V":0.008,"I":0.0},{"cycle":"3rd","n":44,"V":0.025,"I":0.02},{"cycle":"3rd","n":45,"V":0.06,"I":0.027},{"cycle":"3rd","n":46,"V":0.2,"I":0.034},{"cycle":"3rd","n":47,"V":0.4,"I":0.041},{"cycle":"3rd","n":48,"V":0.6,"I":0.04},{"cycle":"3rd","n":49,"V":0.8,"I":0.037},{"cycle":"3rd","n":50,"V":0.96,"I":0.039},{"cycle":"3rd","n":51,"V":1.04,"I":0.051},{"cycle":"3rd","n":52,"V":1.1,"I":0.066},{"cycle":"3rd","n":53,"V":1.25,"I":0.079},{"cycle":"3rd","n":54,"V":1.4,"I":0.089},{"cycle":"3rd","n":55,"V":1.5,"I":0.097},{"cycle":"3rd","n":56,"V":1.575,"I":0.105},{"cycle":"3rd","n":57,"V":1.65,"I":0.096},{"cycle":"3rd","n":58,"V":1.72,"I":0.077},{"cycle":"3rd","n":59,"V":1.78,"I":0.067},{"cycle":"3rd","n":60,"V":1.85,"I":0.08},{"cycle":"3rd","n":61,"V":1.92,"I":0.108},{"cycle":"3rd","n":62,"V":2.0,"I":0.157},{"cycle":"3rd","n":63,"V":2.06,"I":0.193},{"cycle":"3rd","n":64,"V":2.11,"I":0.205},{"cycle":"3rd","n":65,"V":2.16,"I":0.19},{"cycle":"3rd","n":66,"V":2.21,"I":0.147},{"cycle":"3rd","n":67,"V":2.27,"I":0.102},{"cycle":"3rd","n":68,"V":2.34,"I":0.071},{"cycle":"3rd","n":69,"V":2.43,"I":0.051},{"cycle":"3rd","n":70,"V":2.53,"I":0.041},{"cycle":"3rd","n":71,"V":2.7,"I":0.032},{"cycle":"3rd","n":72,"V":2.85,"I":0.029},{"cycle":"3rd","n":73,"V":3.0,"I":0.03},
{"cycle":"4th","n":1,"V":3.0,"I":0.03},{"cycle":"4th","n":2,"V":2.95,"I":0.014},{"cycle":"4th","n":3,"V":2.8,"I":0.006},{"cycle":"4th","n":4,"V":2.5,"I":0.003},{"cycle":"4th","n":5,"V":2.1,"I":0.0},{"cycle":"4th","n":6,"V":1.8,"I":-0.003},{"cycle":"4th","n":7,"V":1.55,"I":-0.006},{"cycle":"4th","n":8,"V":1.43,"I":-0.01},{"cycle":"4th","n":9,"V":1.38,"I":-0.017},{"cycle":"4th","n":10,"V":1.35,"I":-0.032},{"cycle":"4th","n":11,"V":1.33,"I":-0.075},{"cycle":"4th","n":12,"V":1.31,"I":-0.165},{"cycle":"4th","n":13,"V":1.29,"I":-0.265},{"cycle":"4th","n":14,"V":1.27,"I":-0.335},{"cycle":"4th","n":15,"V":1.26,"I":-0.352},{"cycle":"4th","n":16,"V":1.245,"I":-0.335},{"cycle":"4th","n":17,"V":1.225,"I":-0.28},{"cycle":"4th","n":18,"V":1.2,"I":-0.205},{"cycle":"4th","n":19,"V":1.18,"I":-0.165},{"cycle":"4th","n":20,"V":1.16,"I":-0.148},{"cycle":"4th","n":21,"V":1.13,"I":-0.152},{"cycle":"4th","n":22,"V":1.1,"I":-0.17},{"cycle":"4th","n":23,"V":1.06,"I":-0.198},{"cycle":"4th","n":24,"V":1.02,"I":-0.238},{"cycle":"4th","n":25,"V":0.99,"I":-0.278},{"cycle":"4th","n":26,"V":0.96,"I":-0.302},{"cycle":"4th","n":27,"V":0.93,"I":-0.298},{"cycle":"4th","n":28,"V":0.9,"I":-0.276},{"cycle":"4th","n":29,"V":0.87,"I":-0.24},{"cycle":"4th","n":30,"V":0.84,"I":-0.193},{"cycle":"4th","n":31,"V":0.8,"I":-0.138},{"cycle":"4th","n":32,"V":0.76,"I":-0.098},{"cycle":"4th","n":33,"V":0.71,"I":-0.078},{"cycle":"4th","n":34,"V":0.64,"I":-0.063},{"cycle":"4th","n":35,"V":0.55,"I":-0.057},{"cycle":"4th","n":36,"V":0.45,"I":-0.061},{"cycle":"4th","n":37,"V":0.35,"I":-0.069},{"cycle":"4th","n":38,"V":0.25,"I":-0.077},{"cycle":"4th","n":39,"V":0.15,"I":-0.085},{"cycle":"4th","n":40,"V":0.07,"I":-0.094},{"cycle":"4th","n":41,"V":0.0,"I":-0.106},{"cycle":"4th","n":42,"V":0.0,"I":-0.05},{"cycle":"4th","n":43,"V":0.008,"I":0.0},{"cycle":"4th","n":44,"V":0.025,"I":0.021},{"cycle":"4th","n":45,"V":0.06,"I":0.028},{"cycle":"4th","n":46,"V":0.2,"I":0.034},{"cycle":"4th","n":47,"V":0.4,"I":0.041},{"cycle":"4th","n":48,"V":0.6,"I":0.04},{"cycle":"4th","n":49,"V":0.8,"I":0.037},{"cycle":"4th","n":50,"V":0.96,"I":0.039},{"cycle":"4th","n":51,"V":1.04,"I":0.051},{"cycle":"4th","n":52,"V":1.1,"I":0.066},{"cycle":"4th","n":53,"V":1.25,"I":0.079},{"cycle":"4th","n":54,"V":1.4,"I":0.089},{"cycle":"4th","n":55,"V":1.5,"I":0.097},{"cycle":"4th","n":56,"V":1.575,"I":0.104},{"cycle":"4th","n":57,"V":1.65,"I":0.096},{"cycle":"4th","n":58,"V":1.72,"I":0.077},{"cycle":"4th","n":59,"V":1.78,"I":0.067},{"cycle":"4th","n":60,"V":1.85,"I":0.079},{"cycle":"4th","n":61,"V":1.92,"I":0.106},{"cycle":"4th","n":62,"V":2.0,"I":0.155},{"cycle":"4th","n":63,"V":2.06,"I":0.192},{"cycle":"4th","n":64,"V":2.11,"I":0.205},{"cycle":"4th","n":65,"V":2.16,"I":0.19},{"cycle":"4th","n":66,"V":2.21,"I":0.148},{"cycle":"4th","n":67,"V":2.27,"I":0.103},{"cycle":"4th","n":68,"V":2.34,"I":0.072},{"cycle":"4th","n":69,"V":2.43,"I":0.052},{"cycle":"4th","n":70,"V":2.53,"I":0.041},{"cycle":"4th","n":71,"V":2.7,"I":0.033},{"cycle":"4th","n":72,"V":2.85,"I":0.03},{"cycle":"4th","n":73,"V":3.0,"I":0.03}
]
},
"spacing": 18,
"resolve": {"scale": {"x": "independent", "y": "independent", "color": "independent"}, "legend": {"color": "independent"}},
"vconcat": [
{
  "width": 469, "height": 329,
  "title": {"text": "(a)"},
  "resolve": {"axis": {"x": "independent", "y": "independent"}},
  "layer": [
    {
      "data": {"name": "cvA"},
      "mark": {"type": "line", "strokeWidth": 2.4},
      "encoding": {
        "x": {"field": "V", "type": "quantitative", "scale": {"domain": [0, 3], "nice": false, "zero": false},
          "axis": {"title": "Potential (V)", "orient": "bottom", "values": [0,0.5,1,1.5,2,2.5,3], "format": ".1f"}},
        "y": {"field": "I", "type": "quantitative", "scale": {"domain": [-0.7, 0.2], "nice": false, "zero": false},
          "axis": {"title": "Current (mA)", "orient": "left", "values": [-0.6,-0.4,-0.2,0,0.2], "format": ".1f", "labelExpr": "replace(datum.label, '−', '-')"}},
        "color": {"field": "cycle", "type": "nominal",
          "scale": {"domain": ["1st","2nd","3rd","4th"], "range": ["#ff0000","#0000a0","#008000","#ff8000"]},
          "legend": {"orient": "none", "legendX": 331, "legendY": 147, "title": null, "padding": 0,
            "symbolType": "stroke", "symbolSize": 1225, "symbolStrokeWidth": 2.5,
            "labelFontSize": 23, "labelFontWeight": "bold", "labelFontStyle": "italic", "labelColor": "#000",
            "labelOffset": 10, "rowPadding": 6,
            "labelExpr": "datum.label=='1st' ? '1ˢᵗ' : datum.label=='2nd' ? '2ⁿᵈ' : datum.label=='3rd' ? '3ʳᵈ' : '4ᵗʰ'"}},
        "order": {"field": "n", "type": "quantitative"}
      }
    },
    {
      "data": {"values": [{}]},
      "mark": {"type": "text", "text": "SnO₂-Co₃O₄", "align": "left", "baseline": "middle", "fontSize": 28, "fontWeight": "bold", "fontStyle": "italic", "color": "#000"},
      "encoding": {"x": {"datum": 0.115, "type": "quantitative",
          "axis": {"orient": "bottom", "values": [0.25,0.75,1.25,1.75,2.25,2.75], "labels": false, "domain": false, "title": null, "tickSize": 4}},
        "y": {"datum": -0.532, "type": "quantitative",
          "axis": {"orient": "left", "values": [-0.7,-0.5,-0.3,-0.1,0.1], "labels": false, "domain": false, "title": null, "tickSize": 4}}}
    },
    {
      "data": {"values": [{}]},
      "mark": {"type": "text", "text": "(Sn/Co = 2/1)", "align": "left", "baseline": "middle", "fontSize": 28, "fontWeight": "bold", "fontStyle": "italic", "color": "#000"},
      "encoding": {"x": {"datum": 0.115, "type": "quantitative", "axis": null}, "y": {"datum": -0.63, "type": "quantitative", "axis": null}}
    }
  ]
},
{
  "width": 469, "height": 329,
  "title": {"text": "(b)"},
  "resolve": {"axis": {"x": "independent", "y": "independent"}},
  "layer": [
    {
      "data": {"name": "cvB"},
      "mark": {"type": "line", "strokeWidth": 2.4},
      "encoding": {
        "x": {"field": "V", "type": "quantitative", "scale": {"domain": [0, 3], "nice": false, "zero": false},
          "axis": {"title": "Potential (V)", "orient": "bottom", "values": [0,0.5,1,1.5,2,2.5,3], "format": ".1f"}},
        "y": {"field": "I", "type": "quantitative", "scale": {"domain": [-1.4, 0.4], "nice": false, "zero": false},
          "axis": {"title": "Current (mA)", "orient": "left", "values": [-1.2,-0.8,-0.4,0,0.4], "format": ".1f", "labelExpr": "replace(datum.label, '−', '-')"}},
        "color": {"field": "cycle", "type": "nominal",
          "scale": {"domain": ["1st","2nd","3rd","4th"], "range": ["#ff0000","#0000a0","#008000","#ff8000"]},
          "legend": {"orient": "none", "legendX": 326, "legendY": 157, "title": null, "padding": 0,
            "symbolType": "stroke", "symbolSize": 1225, "symbolStrokeWidth": 2.5,
            "labelFontSize": 23, "labelFontWeight": "bold", "labelFontStyle": "italic", "labelColor": "#000",
            "labelOffset": 10, "rowPadding": 6,
            "labelExpr": "datum.label=='1st' ? '1ˢᵗ' : datum.label=='2nd' ? '2ⁿᵈ' : datum.label=='3rd' ? '3ʳᵈ' : '4ᵗʰ'"}},
        "order": {"field": "n", "type": "quantitative"}
      }
    },
    {
      "data": {"values": [{}]},
      "mark": {"type": "text", "text": "SnO₂-Co₃O₄", "align": "left", "baseline": "middle", "fontSize": 28, "fontWeight": "bold", "fontStyle": "italic", "color": "#000"},
      "encoding": {"x": {"datum": 0.096, "type": "quantitative",
          "axis": {"orient": "bottom", "values": [0.25,0.75,1.25,1.75,2.25,2.75], "labels": false, "domain": false, "title": null, "tickSize": 4}},
        "y": {"datum": -1.056, "type": "quantitative",
          "axis": {"orient": "left", "values": [-1.4,-1.0,-0.6,-0.2,0.2], "labels": false, "domain": false, "title": null, "tickSize": 4}}}
    },
    {
      "data": {"values": [{}]},
      "mark": {"type": "text", "text": "(Sn/Co = 1/2)", "align": "left", "baseline": "middle", "fontSize": 28, "fontWeight": "bold", "fontStyle": "italic", "color": "#000"},
      "encoding": {"x": {"datum": 0.096, "type": "quantitative", "axis": null}, "y": {"datum": -1.264, "type": "quantitative", "axis": null}}
    }
  ]
}
]
}
